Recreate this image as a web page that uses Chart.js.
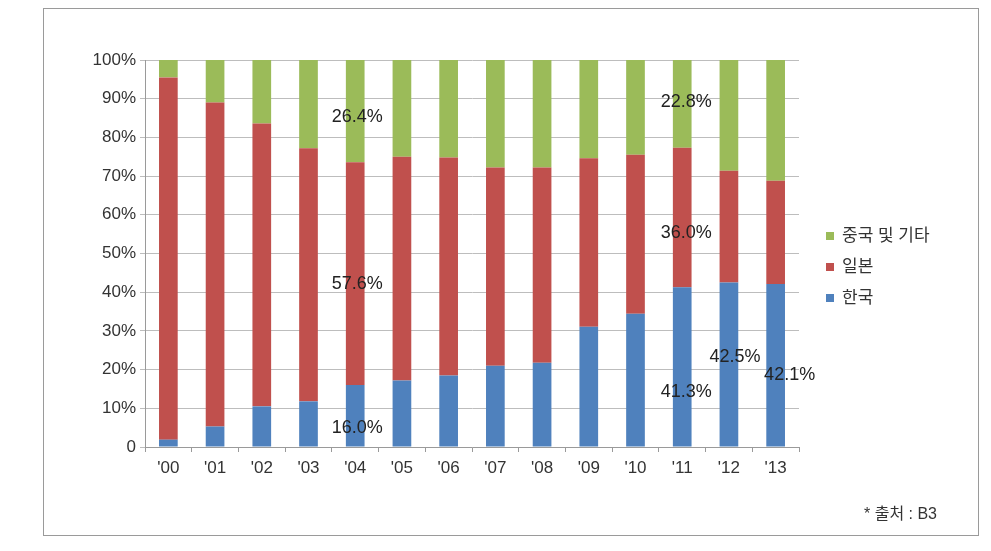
<!DOCTYPE html>
<html>
<head>
<meta charset="utf-8">
<script src="https://cdn.jsdelivr.net/npm/chart.js@4"></script>
<style>
  body { margin: 0; background: #fff; }
  #wrap { position: relative; width: 991px; height: 551px; }
  #frame { position: absolute; left: 43px; top: 8px; width: 934px; height: 526px; border: 1px solid #9a9a9a; }
  #chart { position: absolute; left: 0; top: 0; }
</style>
</head>
<body>
<div id="wrap">
  <div id="frame"></div>
  <canvas id="chart" width="991" height="551"></canvas>
</div>
<script>
const years = ["'00","'01","'02","'03","'04","'05","'06","'07","'08","'09","'10","'11","'12","'13"];
const korea = [1.9, 5.3, 10.5, 11.8, 16.0, 17.2, 18.5, 21.0, 21.8, 31.1, 34.4, 41.3, 42.5, 42.1];
const japan = [93.6, 83.7, 73.1, 65.4, 57.6, 57.8, 56.3, 51.2, 50.4, 43.5, 41.1, 36.0, 28.9, 26.7];
const chinaEtc = [4.5, 11.0, 16.4, 22.8, 26.4, 25.0, 25.2, 27.8, 27.8, 25.4, 24.5, 22.8, 28.6, 31.2];
const seriesNames = ['한국', '일본', '중국 및 기타'];
const seriesColors = ['#4f81bd', '#c0504d', '#9bbb59'];
// which segments get a value label: [series index, year index]
const labelled = [[2, 4], [1, 4], [0, 4], [2, 11], [1, 11], [0, 11], [0, 12], [0, 13]];
// small offsets so the labels sit where the original put them
const labelNudgeY = [6, 10, 12, -2, 16, 25, -8, 9];
const labelNudgeX = [2, 2, 2, 4, 4, 4, 6, 14];

const FONT = '"Liberation Sans", "Noto Sans CJK KR", sans-serif';

const valueLabels = {
  id: 'valueLabels',
  afterDatasetsDraw(chart) {
    const ctx = chart.ctx;
    const y = chart.scales.y;
    ctx.save();
    ctx.font = '18px ' + FONT;
    ctx.fillStyle = '#222';
    ctx.textAlign = 'center';
    ctx.textBaseline = 'middle';
    labelled.forEach(([s, i], k) => {
      const bar = chart.getDatasetMeta(s).data[i];
      let base = 0;
      for (let j = 0; j < s; j++) base += chart.data.datasets[j].data[i];
      const v = chart.data.datasets[s].data[i];
      const yy = y.getPixelForValue(base + v / 2) + labelNudgeY[k];
      ctx.fillText(v.toFixed(1) + '%', bar.x + labelNudgeX[k], yy);
    });
    ctx.restore();
  }
};

const sideLegend = {
  id: 'sideLegend',
  afterDraw(chart) {
    const ctx = chart.ctx;
    ctx.save();
    ctx.font = '17px ' + FONT;
    ctx.textBaseline = 'middle';
    const order = [2, 1, 0];
    order.forEach((s, k) => {
      const yy = 236 + k * 31;
      ctx.fillStyle = seriesColors[s];
      ctx.fillRect(826, yy - 4, 8, 8);
      ctx.fillStyle = '#333';
      ctx.fillText(seriesNames[s], 842, yy);
    });
    ctx.font = '16px ' + FONT;
    ctx.fillText('* 출처 : B3', 864, 515);
    ctx.restore();
  }
};

new Chart(document.getElementById('chart'), {
  type: 'bar',
  data: {
    labels: years,
    datasets: [korea, japan, chinaEtc].map((d, s) => ({
      label: seriesNames[s],
      data: d,
      backgroundColor: seriesColors[s],
      barPercentage: 0.8,
      categoryPercentage: 0.5
    }))
  },
  options: {
    responsive: false,
    animation: false,
    layout: { padding: { left: 80, right: 192, top: 60, bottom: 66 } },
    plugins: { legend: { display: false }, tooltip: { enabled: false } },
    scales: {
      x: {
        stacked: true,
        grid: { drawOnChartArea: false, drawTicks: true, tickLength: 5, color: '#9a9a9a', offset: true },
        border: { color: '#9a9a9a' },
        ticks: { color: '#333', font: { family: FONT, size: 17 }, padding: 6 },
        afterFit(scale) { scale.height = 38; }
      },
      y: {
        stacked: true,
        min: 0,
        max: 100,
        grid: { color: '#bdbdbd', tickLength: 5 },
        border: { color: '#9a9a9a' },
        ticks: {
          stepSize: 10,
          color: '#333',
          font: { family: FONT, size: 17 },
          padding: 4,
          callback: v => v === 0 ? '0' : v + '%'
        },
        afterFit(scale) { scale.width = 65; }
      }
    }
  },
  plugins: [valueLabels, sideLegend]
});
</script>
</body>
</html>
